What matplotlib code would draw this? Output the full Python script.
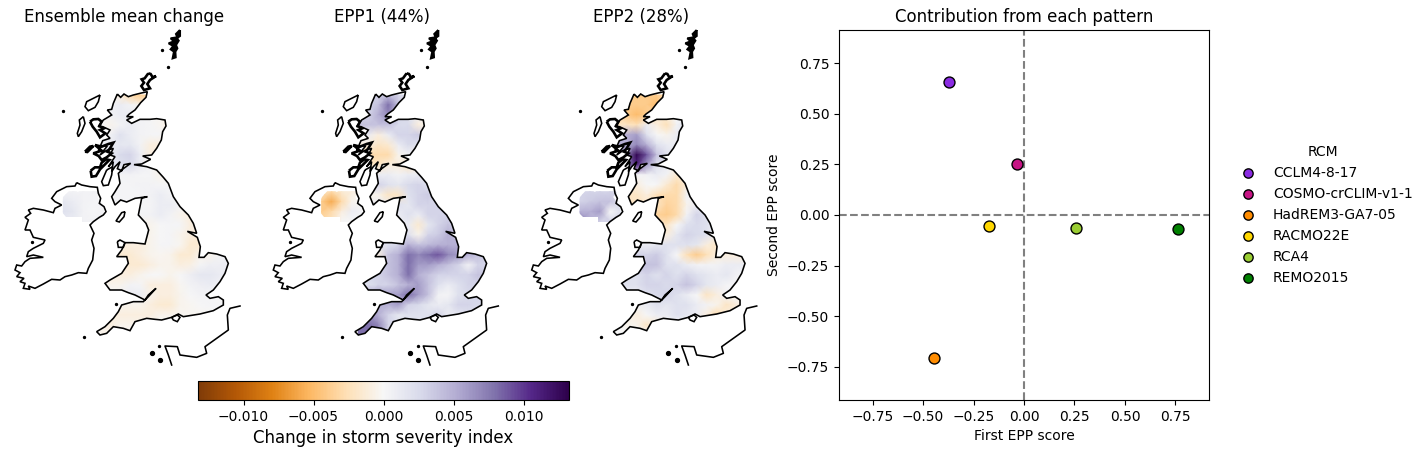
import numpy as np
import matplotlib
matplotlib.use("Agg")
import matplotlib.pyplot as plt
from matplotlib.path import Path
from matplotlib.patches import PathPatch

# ---------- scatter data ----------
rcm_names = ["CCLM4-8-17", "COSMO-crCLIM-v1-1", "HadREM3-GA7-05", "RACMO22E", "RCA4", "REMO2015"]
rcm_colors = ["#8a2be2", "#c71585", "#ff8c00", "#ffd700", "#9acd32", "#008000"]
epp1_score = [-0.371, -0.035, -0.445, -0.173, 0.257, 0.762]
epp2_score = [0.656, 0.25, -0.706, -0.054, -0.064, -0.069]

map_titles = ["Ensemble mean change", "EPP1 (44%)", "EPP2 (28%)"]

# ---------- coast outlines (map units) ----------
gb_coast = [(352,222),(362,232),(372,222),(385,230),(400,225),(420,220),(442,215),(438,232),(422,248),(405,270),(388,282),(380,290),(400,290),(380,300),(395,310),(420,298),(450,298),(470,296),(495,300),(498,318),(488,335),(484,360),(470,385),(455,405),(428,408),(452,418),(425,432),(402,434),(440,440),(470,450),(490,472),(505,490),(520,530),(540,560),(565,585),(580,610),(590,640),(562,634),(592,652),(601,680),(597,712),(612,712),(625,698),(650,702),(675,710),(685,730),(675,760),(660,785),(640,810),(618,825),(630,835),(655,830),(670,840),(670,855),(640,872),(600,882),(550,890),(535,882),(515,892),(485,900),(465,898),(440,895),(405,905),(390,932),(370,925),(340,920),(320,940),(300,945),(290,935),(315,920),(340,895),(355,875),(365,855),(400,845),(430,845),(445,830),(468,805),(445,825),(435,840),(405,825),(385,818),(365,810),(330,810),(315,790),(330,780),(365,760),(385,730),(380,710),(350,710),(365,690),(375,668),(400,668),(435,672),(446,630),(438,610),(415,585),(425,535),(442,530),(405,535),(380,546),(362,540),(345,555),(335,530),(345,515),(360,490),(355,460),(370,446),(392,430),(372,434),(365,452),(352,446),(360,425),(345,440),(335,455),(340,425),(325,440),(345,410),(330,405),(340,385),(318,392),(300,405),(322,378),(305,378),(295,392),(308,362),(330,355),(320,345),(330,330),(308,320),(295,320),(310,300),(335,285),(322,270),(335,268),(340,250)]
ireland_coast = [(230,488),(245,495),(270,500),(292,502),(295,520),(302,535),(298,550),(312,560),(318,575),(310,585),(298,592),(280,605),(270,615),(282,640),(275,660),(282,685),(278,720),(265,745),(260,760),(235,758),(215,765),(195,770),(180,780),(155,778),(130,792),(105,805),(85,798),(90,808),(70,805),(75,790),(60,785),(72,775),(50,770),(60,758),(45,750),(50,735),(65,738),(75,725),(90,715),(130,712),(100,705),(80,710),(85,695),(100,685),(130,670),(135,660),(100,652),(90,630),(75,630),(85,600),(75,592),(92,580),(85,570),(100,565),(130,570),(160,578),(165,565),(185,555),(165,545),(155,535),(170,515),(200,500),(225,498)]
ni_region = [(182,550),(182,572),(198,592),(245,592),(245,606),(280,606),(305,590),(318,575),(300,545),(290,530),(300,520),(290,500),(250,500),(235,515),(215,505),(190,530)]
shetland = [(540,30),(528,42),(532,52),(512,55),(522,64),(506,70),(520,78),(512,88),(522,95),(518,115),(527,112),(526,95),(532,85),(528,75),(536,62),(530,55),(540,48)]
orkney = [(445,160),(434,175),(425,178),(432,188),(424,198),(432,210),(450,205),(442,192),(450,180),(468,168),(458,172),(452,162)]
lewis = [(300,225),(280,235),(260,245),(255,260),(265,272),(285,262),(295,245)]
uist = [(250,290),(238,300),(240,315),(232,340),(235,350),(245,335),(255,310)]
skye = [(270,305),(280,298),(295,297),(305,305),(298,318),(312,325),(300,330),(316,340),(300,352),(290,335),(278,320)]
coll = [(255,395),(270,380),(280,378),(262,396)]
mull = [(285,375),(305,380),(325,372),(340,368),(330,385),(322,395),(335,400),(320,412),(305,420),(296,408),(280,400),(305,392)]
jura = [(272,452),(275,470),(288,468),(300,448),(318,430),(328,420),(318,418),(305,428),(300,442),(285,442)]
kintyre = [(320,450),(338,440),(335,465),(325,495),(310,497),(305,485)]
man_island = [(375,575),(365,578),(348,603),(358,606),(372,590)]
anglesey = [(352,665),(360,660),(375,668),(370,682),(355,682)]
wight = [(515,892),(532,885),(540,892),(532,905),(520,900)]
specks = [(190,273),(487,90),(505,142),(252,952),(347,852),(478,978),(95,665)]
channel_x = [455, 480]
channel_y = [1000, 1020]
france_x = [720,690,682,685,650,615,620,590,540,532,495,505,515]
france_y = [858,865,885,930,955,980,1000,1012,1005,980,978,1005,1035]
thin_islands = [lewis, uist, kintyre, man_island, anglesey, wight]
dense_islands = [orkney, skye, coll, mull, jura]

# ---------- field grid, values in units of 1e-3 ----------
grid_x = [300,330,360,390,420,450,480,510,540,570,600,630,660,690]
grid_y = [225,255,285,315,345,375,405,435,465,495,525,555,585,615,645,675,705,735,765,795,825,855,885,915,945]

mean_change = [
 [0,0,-1,-3,-4,-3,-3,0,0,0,0,0,0,0],
 [0,.5,1,.5,-.5,-.5,0,0,0,0,0,0,0,0],
 [0,.5,1,1,.5,.3,-.3,-1,-1,0,0,0,0,0],
 [0,-.5,.5,1,.5,.3,-.3,-1,-2,0,0,0,0,0],
 [.5,.5,2,1,.5,.3,.3,-.5,-1,0,0,0,0,0],
 [1,1,1.5,1.5,.5,-1,-1,-.5,0,0,0,0,0,0],
 [1,1,2.5,3,1,-1,-1,-.5,0,0,0,0,0,0],
 [1,1,2,2.5,1,.3,-.5,-.5,0,0,0,0,0,0],
 [.3,.3,.3,.5,.3,.3,-.5,-.5,-.5,0,0,0,0,0],
 [.3,.3,.3,.3,.5,.5,.3,.3,.2,0,0,0,0,0],
 [.3,.3,.3,.3,.3,.5,1,.5,-.3,-.3,0,0,0,0],
 [.3,.3,.3,.3,.3,.3,1,1,.3,-.5,-.5,0,0,0],
 [.3,.3,.3,.3,.3,.5,1,.5,-.5,-1,-1,0,0,0],
 [-.5,-.5,-.5,-.5,-.5,-.5,0,.3,.3,-1,-.5,-.3,0,0],
 [-.5,-.5,-.5,-.5,-.5,-.5,0,.3,-.5,-1,-1.5,-1,0,0],
 [-1,-1,-1,-1,-1,-.5,.2,.3,-.3,-1.5,-1.5,-1,-.5,0],
 [-1.5,-1.5,-1.5,-1.5,-1,-.5,-.3,-.5,-1.5,-1.5,-.5,-.5,.5,.5],
 [-1,-1,-1,-1.5,-1.5,-1,-.5,-.5,-1,-.8,.3,.8,.8,1],
 [-1,-1,-1,-1,-.5,0,0,-.5,0,.8,1.5,1.5,1,1],
 [0,-.5,-.5,.5,.3,-1,-1,-1,-.3,.5,.8,1,.5,.5],
 [0,0,.5,1,1,-.5,-1,-1,-.5,0,.5,.3,0,0],
 [-.5,-.5,-.5,-.5,-.5,-1,-1.5,-1.5,-.5,-.3,0,.3,.3,0],
 [-1,-1,-1,-1,-1,-1,-.5,-.5,-.3,-.3,-.3,0,0,0],
 [-.5,-1,-.5,-.5,-.5,-.5,0,0,0,0,0,0,0,0],
 [-.5,-.5,-.5,0,0,0,0,0,0,0,0,0,0,0],
]
epp1 = [
 [2,3,3,4,3,2,0,0,0,0,0,0,0,0],
 [3,3,4,8,4,0,0,0,0,0,0,0,0,0],
 [3,3,5,7,3,2,1,0,0,0,0,0,0,0],
 [4,4,4,4,2.5,2.5,-1,-.5,0,0,0,0,0,0],
 [1,1,-1,1,3,3,3.5,2,0,0,0,0,0,0],
 [-1,-1,-2,-1.5,1,2.5,2,1,0,0,0,0,0,0],
 [-3,-3,-3,-3,-.5,.5,-.5,0,0,0,0,0,0,0],
 [-2,-2,-2,-1,-1,-2,-1,0,0,0,0,0,0,0],
 [1,1,1,1,.5,1,1,1,0,0,0,0,0,0],
 [3,3,3,2,1.5,2.5,3,2,1,0,0,0,0,0],
 [-.5,-.5,-.5,-2,-2,2,3,3.5,1,1,0,0,0,0],
 [1,1,1,1,2,1.5,3,3,3,3,0,0,0,0],
 [1,1,1,1,1,2,1,3,3,3,3,0,0,0],
 [1,1,1,1,1,1,-1.5,1.5,3,4,3,3,0,0],
 [2,2,2,2,2,2,-.5,3,3.5,5,4,3,0,0],
 [2,2,2,2,3,5,4,4.5,5,5,5,4,3,0],
 [-1,-1,-1,4,5,8,7,8,9,7,6,5,4,3],
 [3,3,3,4,5,8,6,6,5,4,3,.5,3,3],
 [3,3,3,4,5,8,5,4,3,3,3,3,4,3],
 [2,2,3,3,4,5,6,4,2,1,2,3,3,3],
 [5,5,6,6,6,8,6,4,.5,.3,2,2.5,3,3],
 [5,5,5,5,6,3,2.5,1.5,1,1.5,3,3,2.5,2],
 [7,7,5,3,1.5,2,2,2,3,1,1.5,2,2,2],
 [8,8,7,3,2,2,2,2,2,1,1,1,1,1],
 [8,8,7,3,2,2,2,2,2,1,1,1,1,1],
]
epp2 = [
 [-4,-4,-4,-4,-4,-3,0,0,0,0,0,0,0,0],
 [-4,-4,-4,-4,-5,-1,0,0,0,0,0,0,0,0],
 [-3,-4,-5,-4,-2,-1,0,0,0,0,0,0,0,0],
 [-2,-2,-2.5,1,-1,-2.5,.5,2,2,0,0,0,0,0],
 [5,5,6,2,0,-.5,1,2,2,0,0,0,0,0],
 [5,5,7,5,2,1,1,1,0,0,0,0,0,0],
 [7,7,13,9,4,2,1,0,0,0,0,0,0,0],
 [7,7,11,6,2,1,0,0,0,0,0,0,0,0],
 [.3,.3,.3,.5,1,.5,-1.5,-1,0,0,0,0,0,0],
 [-1,-1,-1,0,0,-1.5,-3,-1,0,0,0,0,0,0],
 [-2,-2,-2,-1,-2.5,-3,-3,.5,1,0,0,0,0,0],
 [-2,-2,-2,-2,-2,-3.5,-3,-.5,1,1,0,0,0,0],
 [-3,-3,-3,-3,-3.5,-4,-3,.5,3,2,1,0,0,0],
 [-2,-2,-2,-2,-2,-2,0,2,2.5,2,1,1,0,0],
 [-1,-1,-1,-1,-1,-1,1.5,3,2.5,2,0,0,0,0],
 [1,1,1,1,1.5,2,2,2,1.5,-1,-2,-1,-1,-1],
 [3,3,3,3,3.5,2,0,-2.5,-4,-2.5,-1,-1,-1,-1],
 [4,4,4,4,4,2,2,1,.5,.5,.5,1,1,1],
 [2,2,2,3,2,3,2,3,2,1.5,1,1.5,.5,.5],
 [2,2,2,3,3,2.5,3,4,3,1.5,1,.3,.3,.3],
 [1,1,1,2,2.5,3,2,1,0,-2,-1,.5,0,0],
 [.5,.5,.5,1,2,1.5,2,2,1,.5,-.5,-2,-1,-1],
 [-.5,-.5,-1,0,1,1,2,1.5,1,-1,-3,-1,-1,-1],
 [.3,-.5,-.5,-2,-1,0,0,0,0,0,0,0,0,0],
 [0,0,0,0,0,0,0,0,0,0,0,0,0,0],
]

ni_x = [190,220,250,280,310]
ni_y = [515,545,575,605]
ni_mean = [[.5,.5,.5,.5,.3],[1.5,1,.5,.3,.3],[2,1.5,.5,0,.5],[1,1,.5,.5,.5]]
ni_epp1 = [[-2,-3,-1.5,-1,-.5],[-4,-6,-3,-.5,0],[-4,-3,-1,1,.5],[-3,-2,0,0,0]]
ni_epp2 = [[3,3,3,3,2],[3,3.5,4,4,2],[5,5,6,0,2],[8,5,3,3,2]]

fields = [(mean_change, ni_mean), (epp1, ni_epp1), (epp2, ni_epp2)]
color_limit = 13.25
cbar_ticks = [-10, -5, 0, 5, 10]

# ---------- figure ----------
W, H = 1427, 454
fig = plt.figure(figsize=(W/100, H/100), dpi=100)

def px_axes(left, top, width, height, **kw):
    return fig.add_axes([left/W, 1-(top+height)/H, width/W, height/H], **kw)

def closed_path(pts):
    return Path(np.array(list(pts)+[pts[0]], dtype=float), closed=False)

for i, (x0, title, (gb_vals, ni_vals)) in enumerate(zip([0, 258.3, 516.7], map_titles, fields)):
    ax = px_axes(x0, 30, 248, 340)
    ax.set_xlim(0, 744)
    ax.set_ylim(1050, 30)
    ax.axis("off")
    ax.patch.set_alpha(0)
    ax.set_title(title, fontsize=12, pad=6)
    ax.title.set_visible(True)
    for grid, vals, outline in [((grid_x, grid_y), gb_vals, gb_coast), ((ni_x, ni_y), ni_vals, ni_region)]:
        mesh = ax.pcolormesh(grid[0], grid[1], np.array(vals)*1.0, shading="gouraud",
                             cmap="PuOr", vmin=-color_limit, vmax=color_limit)
        clip = PathPatch(closed_path(outline), transform=ax.transData, fc="none", ec="none")
        ax.add_patch(clip)
        mesh.set_clip_path(clip)
    for pts in [gb_coast, ireland_coast] + thin_islands:
        ax.add_patch(PathPatch(closed_path(pts), fc="none", ec="black", lw=1.15, clip_on=False))
    for pts in dense_islands:
        ax.add_patch(PathPatch(closed_path(pts), fc="none", ec="black", lw=1.9, clip_on=False))
    ax.add_patch(PathPatch(closed_path(shetland), fc="black", ec="black", lw=1.5, clip_on=False))
    ax.plot(france_x, france_y, color="black", lw=1.15, clip_on=False)
    ax.plot([s[0] for s in specks], [s[1] for s in specks], ls="none", marker="o", ms=1.4, color="black", clip_on=False)
    ax.plot(channel_x, channel_y, ls="none", marker="o", ms=2.8, color="black", clip_on=False)

# ---------- colorbar ----------
cax = px_axes(198, 381, 371, 19)
sm = plt.cm.ScalarMappable(norm=plt.Normalize(-color_limit/1000, color_limit/1000), cmap="PuOr")
cb = fig.colorbar(sm, cax=cax, orientation="horizontal")
cb.set_ticks([t/1000 for t in cbar_ticks])
cb.set_ticklabels(["\u22120.010", "\u22120.005", "0.000", "0.005", "0.010"])
cb.set_label("Change in storm severity index", fontsize=12)

# ---------- scatter ----------
ax4 = px_axes(839, 30, 370, 370)
ax4.axhline(0, color="gray", ls="--", lw=1.5, zorder=1)
ax4.axvline(0, color="gray", ls="--", lw=1.5, zorder=1)
for n, c, a, b in zip(rcm_names, rcm_colors, epp1_score, epp2_score):
    ax4.scatter(a, b, s=62, color=c, edgecolor="black", linewidth=1, label=n, zorder=3)
ax4.set_xlim(-0.916, 0.916)
ax4.set_ylim(-0.913, 0.913)
ax4.set_xticks([-0.75, -0.5, -0.25, 0, 0.25, 0.5, 0.75])
ax4.set_yticks([-0.75, -0.5, -0.25, 0, 0.25, 0.5, 0.75])
ax4.set_xlabel("First EPP score")
ax4.set_ylabel("Second EPP score")
ax4.set_title("Contribution from each pattern", fontsize=12)
ax4.legend(title="RCM", frameon=False, loc="center left", bbox_to_anchor=(1.0335, 0.5),
           markerscale=0.85, handletextpad=0.8)

fig.savefig("out.png", dpi=100)
